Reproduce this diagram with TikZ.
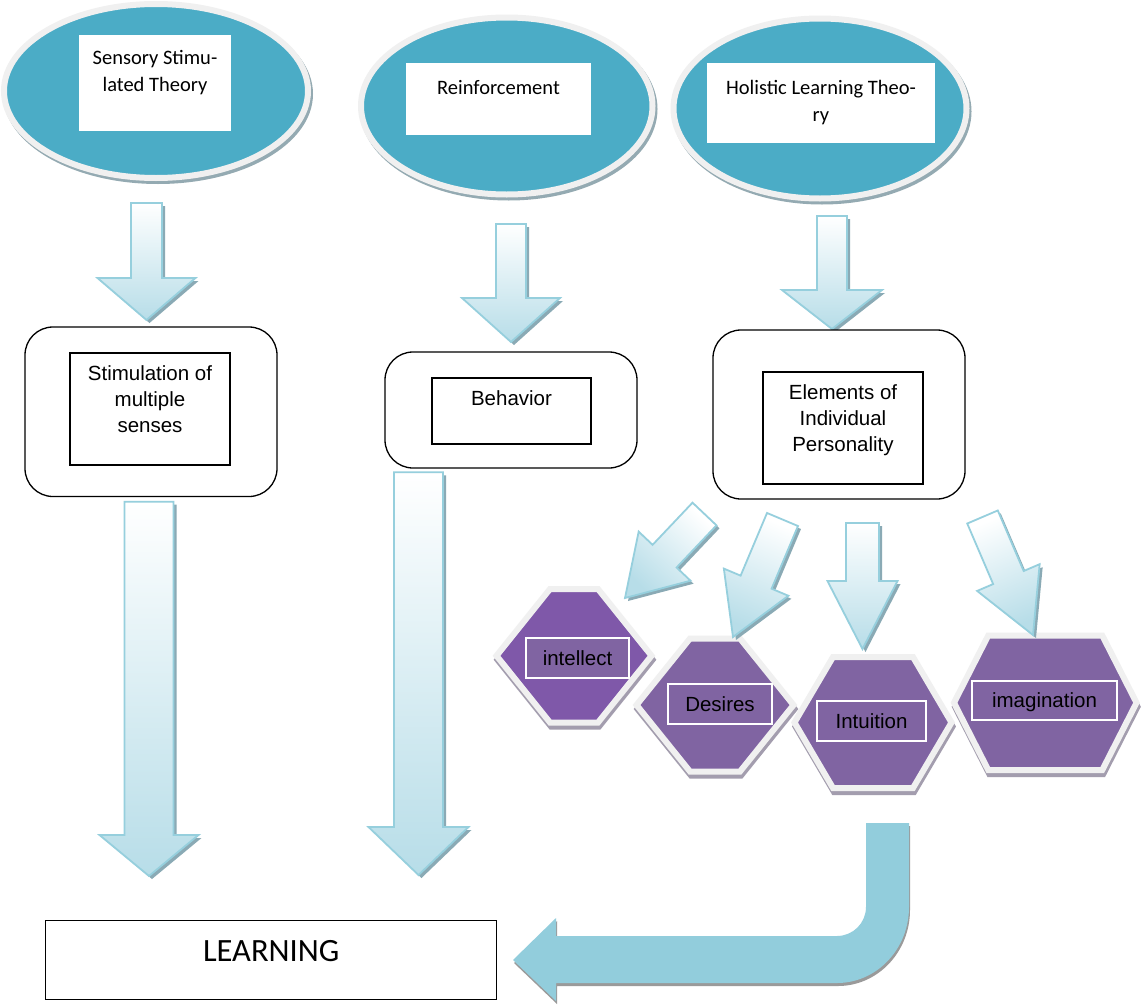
\documentclass[tikz,border=0pt]{standalone}
\usepackage{fontspec}
\setmainfont{Liberation Sans}
\newfontfamily\calfont{Carlito}
\usetikzlibrary{calc,shapes.geometric}
\definecolor{ellteal}{HTML}{4BACC6}
\definecolor{ellring}{HTML}{F0F0F0}
\definecolor{ellshade}{HTML}{94AAB2}
\definecolor{arrowedge}{HTML}{96CFDD}
\definecolor{arrowblue}{HTML}{B7DDE8}
\definecolor{arrowshade}{HTML}{8AAAB5}
\definecolor{hexpurple}{HTML}{8064A2}
\definecolor{intpurple}{HTML}{7F58A9}
\definecolor{hexring}{HTML}{F0F0F0}
\definecolor{hexshade}{HTML}{A39DAE}
\definecolor{bentblue}{HTML}{92CDDC}
\definecolor{bentshade}{HTML}{9A9A9A}
\newcommand\toptext[4]{\parbox[c][#2][t]{#1}{\centering\rule{0pt}{#3}#4\par}}
\newcommand\arrowoutline[5]{($(#1)!#3!90:(#2)$) -- ($(babase)!#3!90:(#2)$) -- ($(babase)!#4!90:(#2)$) -- (#2) -- ($(babase)!#4!-90:(#2)$) -- ($(babase)!#3!-90:(#2)$) -- ($(#1)!#3!-90:(#2)$) -- cycle}
\newcommand\blockarrow[6]{%
  \coordinate (babase) at ($(#2)!#5!(#1)$);
  \path[arrshadow] \arrowoutline{#1}{#2}{#3}{#4}{#5};
  \path[arrbody, shading angle=#6] \arrowoutline{#1}{#2}{#3}{#4}{#5};
}
\newcommand\hexa[6]{\path[hexsty, fill=#6, shift={(#1,#2)}] (-#3,0) -- (-#4,-#5) -- (#4,-#5) -- (#3,0) -- (#4,#5) -- (-#4,#5) -- cycle;}
\begin{document}
\begin{tikzpicture}[x=1pt,y=-1pt,
  ell/.style={ellipse, fill=ellteal, draw=ellring, line width=6pt, inner sep=0pt, outer sep=0pt,
    preaction={fill=ellshade, draw=ellshade, line width=6pt, transform canvas={shift={(2,3)}}}},
  elltext/.style={fill=white, inner sep=0pt, outer sep=0pt, font=\calfont\fontsize{20.5}{27.5}\selectfont},
  rbox/.style={draw=black, line width=1.3pt, rounded corners=28pt, fill=white, inner sep=0pt, outer sep=0pt},
  ibox/.style={draw=black, line width=1.6pt, fill=white, inner sep=0pt, outer sep=0pt, font=\fontsize{20.5}{26}\selectfont},
  hexlbl/.style={draw=white, line width=1.5pt, fill=hexpurple, inner sep=0pt, text height=14.7pt, text depth=0pt, font=\fontsize{20.5}{24}\selectfont},
  arrbody/.style={draw=arrowedge, line width=1.8pt, line join=miter, top color=white, bottom color=arrowblue},
  arrshadow/.style={fill=arrowshade, transform canvas={shift={(3,3)}}},
  hexsty/.style={draw=hexring, line width=6pt, line join=miter,
    preaction={fill=hexshade, draw=hexshade, line width=6pt, transform canvas={shift={(1,4)}}}},
  bentarrow/.style={fill=bentblue, preaction={fill=bentshade, transform canvas={shift={(1,3)}}}},
  learnbox/.style={draw=black, line width=1.5pt, fill=white, inner sep=0pt, outer sep=0pt, font=\calfont\fontsize{32.5}{36}\selectfont}]
\path[fill=white, use as bounding box] (0,0) rectangle (1143,1004);

% top ellipses
\node[ell, minimum width=304pt, minimum height=174pt] (e1) at (156,91) {};
\node[ell, minimum width=291.5pt, minimum height=177pt] (e2) at (506.75,106) {};
\node[ell, minimum width=293pt, minimum height=180pt] (e3) at (820,108.5) {};
\node[elltext] (t1) at (155,83) {\toptext{152pt}{96pt}{29pt}{Sensory Stimu-\\lated Theory}};
\node[elltext] (t2) at (498.5,99) {\toptext{185pt}{72pt}{31pt}{Reinforcement}};
\node[elltext] (t3) at (821,103) {\toptext{228pt}{80pt}{31pt}{Holistic Learning Theo-\\ry}};

% arrows from ellipses
\coordinate (a1s) at (146.5,203); \coordinate (a1e) at (146.5,320);
\coordinate (a2s) at (511,224);   \coordinate (a2e) at (511,342);
\coordinate (a3s) at (832,216);   \coordinate (a3e) at (832,329);
\blockarrow{a1s}{a1e}{15.5pt}{49pt}{42pt}{0}
\blockarrow{a2s}{a2e}{15pt}{49pt}{44pt}{0}
\blockarrow{a3s}{a3e}{15pt}{50pt}{39pt}{0}

% rounded boxes
\node[rbox, minimum width=252pt, minimum height=169.5pt] (b1) at (151,411.75) {};
\node[ibox] (r1) at (150,409) {\toptext{160pt}{112pt}{27pt}{Stimulation of\\multiple\\senses}};
\node[rbox, minimum width=252pt, minimum height=116pt] (b2) at (511,410) {};
\node[ibox] (r2) at (511.5,411) {\toptext{159pt}{66pt}{27.5pt}{Behavior}};
\node[rbox, minimum width=252pt, minimum height=169pt] (b3) at (839,414.5) {};
\node[ibox] (r3) at (843,428) {\toptext{160pt}{112pt}{27.5pt}{Elements of\\Individual\\Personality}};

% long arrows
\coordinate (l1s) at (149,501.7); \coordinate (l1e) at (149,876);
\coordinate (l2s) at (418.5,472.3); \coordinate (l2e) at (418.5,875);
\blockarrow{l1s}{l1e}{24.5pt}{49.5pt}{41pt}{0}
\blockarrow{l2s}{l2e}{24.5pt}{50pt}{48pt}{0}

% hexagons
\hexa{574}{655.75}{77.5}{24}{66.75}{intpurple}
\hexa{715}{705}{78.5}{25}{66.5}{hexpurple}
\hexa{873}{722.5}{78.5}{40}{65.5}{hexpurple}
\hexa{1045.25}{702.75}{91.25}{57}{67.25}{hexpurple}
\node[hexlbl, minimum width=103pt, minimum height=40pt] (h1) at (577.5,658) {intellect};
\node[hexlbl, minimum width=104pt, minimum height=40pt] (h2) at (720,704) {Desires};
\node[hexlbl, minimum width=109pt, minimum height=40pt] (h3) at (871.5,721) {Intuition};
\node[hexlbl, minimum width=145pt, minimum height=39pt] (h4) at (1044.5,700.5) {imagination};

% arrows from Elements box to hexagons
\coordinate (d1s) at (704.5,514); \coordinate (d1e) at (625,598);
\coordinate (d2s) at (782.5,519.5); \coordinate (d2e) at (733,637);
\coordinate (d3s) at (862.5,523); \coordinate (d3e) at (862.5,649);
\coordinate (d4s) at (982.5,517); \coordinate (d4e) at (1033,635);
\blockarrow{d1s}{d1e}{16.5pt}{35.7pt}{57.6pt}{-43.4}
\blockarrow{d2s}{d2e}{16.8pt}{35pt}{59.5pt}{-22.8}
\blockarrow{d3s}{d3e}{16.5pt}{35pt}{68pt}{0}
\blockarrow{d4s}{d4e}{16.6pt}{34pt}{62.5pt}{23.2}

% LEARNING box
\node[learnbox] (learn) at (271.2,960) {\toptext{451pt}{78.6pt}{41pt}{LEARNING}};

% bent arrow
\coordinate (bs) at (887.5,823);
\coordinate (bt) at (513,960);
\path[bentarrow] ($(bs)+(21.5,0)$) -- ++(0,84) arc[start angle=0, end angle=90, x radius=72, y radius=76]
  -- ($(bt)+(43,23)$) -- ($(bt)+(43,41)$) -- (bt) -- ($(bt)+(43,-42)$) -- ($(bt)+(43,-24)$)
  -- ++(281,0) arc[start angle=90, end angle=0, x radius=29, y radius=29] -- ($(bs)+(-21.5,0)$) -- cycle;
\end{tikzpicture}
\end{document}
